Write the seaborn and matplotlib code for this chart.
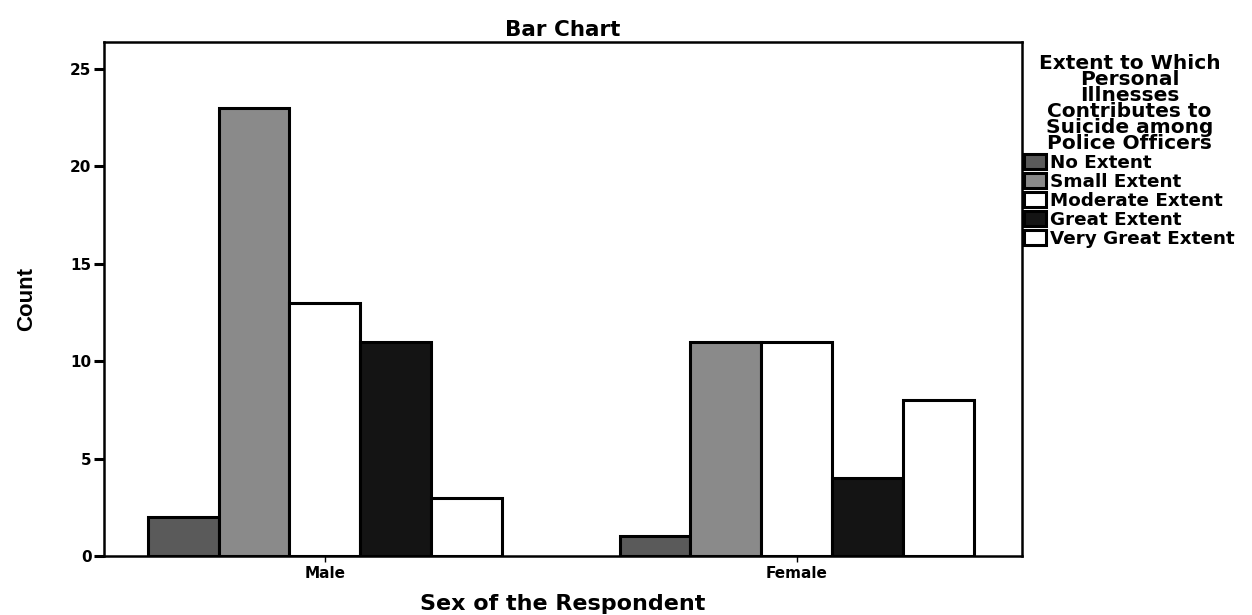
import numpy as np
import pandas as pd
import matplotlib
matplotlib.use("Agg")
import matplotlib.pyplot as plt
import seaborn as sns

# data
sexes = ["Male", "Female"]
extents = ["No Extent", "Small Extent", "Moderate Extent", "Great Extent", "Very Great Extent"]
male_counts = [2, 23, 13, 11, 3]
female_counts = [1, 11, 11, 4, 8]
bar_colors = ["#5a5a5a", "#8a8a8a", "#ffffff", "#141414", "#ffffff"]

df = pd.DataFrame({
    "sex": np.repeat(sexes, len(extents)),
    "extent": extents * len(sexes),
    "count": male_counts + female_counts,
})

sns.set_style("white")
plt.rcParams["font.family"] = ["DejaVu Sans"]
plt.rcParams["text.color"] = "black"
plt.rcParams["axes.labelcolor"] = "black"
plt.rcParams["xtick.color"] = "black"
plt.rcParams["ytick.color"] = "black"

fig, ax = plt.subplots(figsize=(12.52, 6.15), dpi=100)
fig.subplots_adjust(left=0.083, right=0.816, top=0.932, bottom=0.096)

sns.barplot(data=df, x="sex", y="count", hue="extent", order=sexes,
            hue_order=extents, palette=bar_colors, width=0.75,
            edgecolor="black", linewidth=2.2, saturation=1, ax=ax)

ax.set_xlim(-0.468, 1.477)
ax.set_ylim(0, 26.4)
ax.set_yticks([0, 5, 10, 15, 20, 25])
for s in ax.spines.values():
    s.set_linewidth(1.8)
    s.set_color("black")
ax.tick_params(axis="y", left=True, direction="out", length=7, width=2.2, labelsize=11, pad=2)
ax.tick_params(axis="x", bottom=True, direction="out", length=4, width=1, labelsize=11)
for lab in ax.get_xticklabels() + ax.get_yticklabels():
    lab.set_fontweight("bold")

ax.set_title("Bar Chart", fontsize=15.5, fontweight="bold", pad=4)
ax.set_xlabel("Sex of the Respondent", fontsize=16, fontweight="bold", labelpad=9)
ax.set_ylabel("Count", fontsize=16, fontweight="bold", labelpad=24,
              family=["Liberation Sans Narrow", "Liberation Sans"])

handles, labels = ax.get_legend_handles_labels()
ax.legend(handles, labels,
          title="Extent to Which\nPersonal\nIllnesses\nContributes to\nSuicide among\nPolice Officers",
          loc="upper left", bbox_to_anchor=(0.995, 0.99), frameon=False,
          handlelength=1.2, handleheight=0.9, handletextpad=0.2,
          labelspacing=0.05, borderaxespad=0.2, borderpad=0.2,
          prop={"weight": "bold", "size": 13.2},
          title_fontproperties={"weight": "bold", "size": 14.5})
ax.get_legend()._legend_box.align = "center"
ax.get_legend().get_title().set_multialignment("center")
ax.get_legend().get_title().set_linespacing(0.8)

fig.savefig("out.png", dpi=100)
